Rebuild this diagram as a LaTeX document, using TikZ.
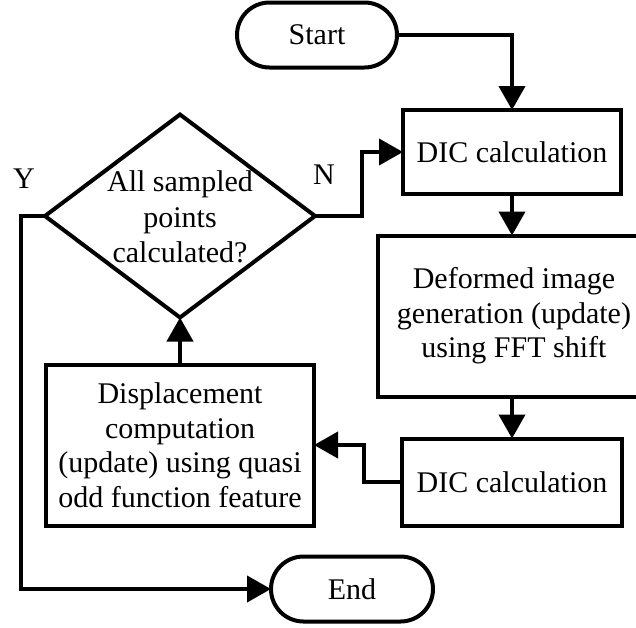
\documentclass[tikz,border=0pt]{standalone}
\usepackage{fontspec}
\setmainfont{Liberation Serif}
\usetikzlibrary{arrows.meta,shapes.misc,shapes.geometric}

\begin{document}
\begin{tikzpicture}[x=1pt,y=-1pt]
  \tikzset{BoxStyle/.style = {
    shape         = rectangle,
    draw          = black,
    fill          = white,
    line width    = 4pt,
    text          = black,
    align         = center,
    inner sep     = 0pt,
    outer sep     = 0pt,
    font          = \fontsize{30}{34.5}\selectfont
    }
  }
  \tikzset{TerminalStyle/.style = {
    BoxStyle,
    shape         = rounded rectangle,
    minimum width = 160pt,
    minimum height= 65pt
    }
  }
  \tikzset{DecisionStyle/.style = {
    shape         = diamond,
    draw          = black,
    line width    = 4pt,
    inner sep     = 0pt,
    outer sep     = 0pt,
    minimum width = 270pt,
    minimum height= 203pt
    }
  }
  \tikzset{TextStyle/.style = {
    align         = center,
    inner sep     = 0pt,
    font          = \fontsize{30}{35.5}\selectfont
    }
  }
  \tikzset{EdgeStyle/.style = {
    draw          = black,
    line width    = 4pt,
    -{Triangle[length=24pt,width=26pt]}
    }
  }

  \useasboundingbox (0,0) rectangle (636,627);

	\node[TerminalStyle](start) at (317,35) {Start};
	\node[BoxStyle, minimum width=218pt, minimum height=84pt](dic1) at (512,152) {DIC calculation};
	\node[BoxStyle, minimum width=272pt, minimum height=161pt](deformed) at (514,316) {Deformed image\\generation (update)\\using FFT shift};
	\node[BoxStyle, minimum width=220pt, minimum height=87pt](dic2) at (512,482) {DIC calculation};
	\node[BoxStyle, minimum width=268pt, minimum height=161pt](disp) at (180,445) {Displacement\\computation\\(update) using quasi\\odd function feature};
	\node[DecisionStyle](check) at (180,216) {};
	\node[TextStyle](checktext) at (180,217) {All sampled\\points\\calculated?};
	\node[TerminalStyle, minimum width=162pt](finish) at (352,589) {End};
	\node[TextStyle](ylabel) at (24,179) {Y};
	\node[TextStyle](nlabel) at (324,175) {N};

	\draw[EdgeStyle](start) -| (dic1);
	\draw[EdgeStyle](dic1.south) -- (dic1.south |- deformed.north);
	\draw[EdgeStyle](deformed.south -| dic2.north) -- (dic2.north);
	\draw[EdgeStyle](dic2.west) -- ++(-38,0) |- (disp);
	\draw[EdgeStyle](disp) -- (check);
	\draw[EdgeStyle](check.east) -- ++(47,0) |- (dic1);
	\draw[EdgeStyle](check.west) -- ++(-24,0) |- (finish);

\end{tikzpicture}
\end{document}
